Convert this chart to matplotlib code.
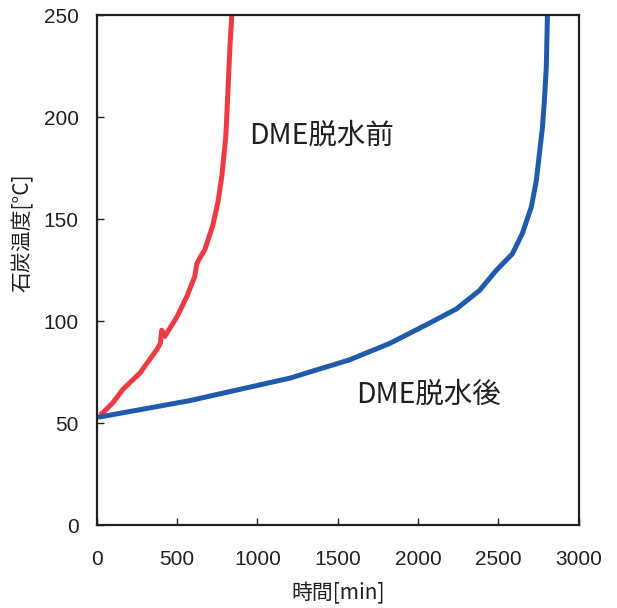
import numpy as np
import matplotlib
matplotlib.use('Agg')
from matplotlib import pyplot as plt

plt.rcParams['font.family'] = ['Liberation Sans', 'Noto Sans CJK JP']

# DME脱水前 (before dewatering)
red_t = [20, 37, 100, 162, 268, 373, 395, 404, 423, 498, 560, 610, 622, 641, 672,
         722, 753, 778, 803, 815, 828, 840]
red_temp = [54, 55, 60, 66.5, 74.5, 86, 89, 95.5, 92.5, 102, 112, 122, 128, 131, 135,
            147, 158, 171, 191, 211, 234, 250]

# DME脱水後 (after dewatering)
blue_t = [0, 19, 579, 951, 1201, 1262, 1573, 1822, 2071, 2239, 2382, 2488, 2587,
          2649, 2705, 2736, 2755, 2774, 2786, 2798, 2805]
blue_temp = [53, 53, 61, 67.6, 72, 73.5, 81, 89, 99, 106, 115, 125, 133,
             143, 156, 169, 182, 195, 208, 224.5, 250]

dark = '#231f20'
cjk = ['Noto Sans CJK JP', 'DejaVu Sans']

fig = plt.figure(figsize=(6.17, 6.08), dpi=100)
ax = fig.add_axes([0.157, 0.1365, 0.781, 0.8385])

ax.plot(red_t, red_temp, color='#ee3a43', lw=3.6, solid_capstyle='butt')
ax.plot(blue_t, blue_temp, color='#1f5baa', lw=3.6, solid_capstyle='butt')

ax.set_xlim(0, 3000)
ax.set_ylim(0, 250)
ax.set_xticks(np.arange(0, 3001, 500))
ax.set_yticks(np.arange(0, 251, 50))
ax.tick_params(direction='in', length=5, width=1, colors=dark, labelsize=15)
ax.tick_params(axis='x', pad=18)
ax.tick_params(axis='y', pad=13)
for s in ax.spines.values():
    s.set_linewidth(1.6)
    s.set_color(dark)

# axis titles placed on the figure
fig.text(338 / 617, 1 - 593 / 608, '時間[min]', fontsize=15, color=dark,
         family=cjk, ha='center', va='center')
fig.text(23 / 617, 1 - 233 / 608, '石炭温度[°C]', fontsize=15, color=dark,
         family=cjk, ha='center', va='center', rotation=90)

ax.text(945, 191, 'DME脱水前', fontsize=20.5, color=dark, va='center', family=cjk)
ax.text(1615, 64, 'DME脱水後', fontsize=20.5, color=dark, va='center', family=cjk)

fig.savefig('out.png', dpi=100)
